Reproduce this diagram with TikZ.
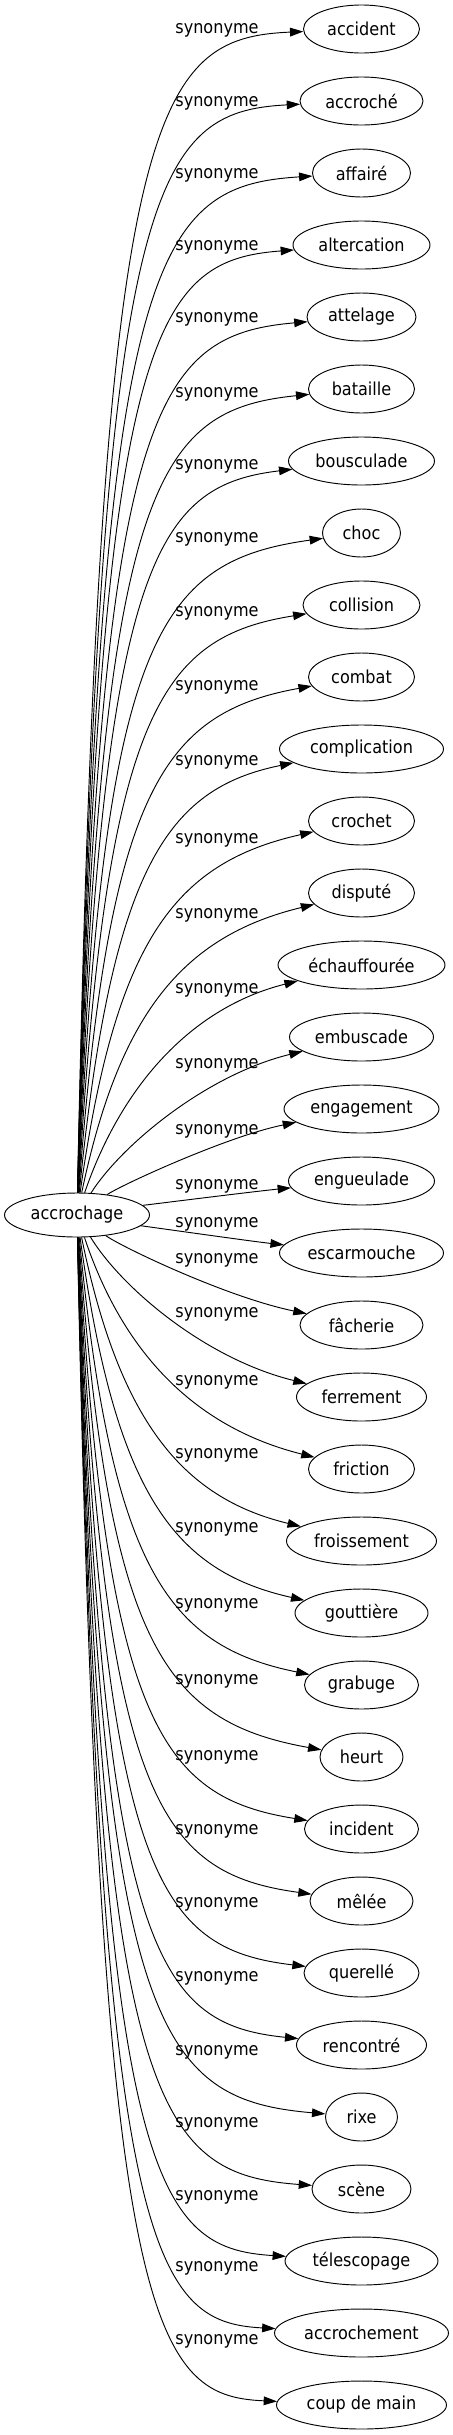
\documentclass[tikz,border=0pt]{standalone}
\usepackage{fontspec}
\setmainfont{DejaVu Sans Condensed}
\usetikzlibrary{arrows.meta,calc,shapes.geometric}

\begin{document}
\begin{tikzpicture}[x=0.75pt, y=0.75pt,
		mot/.style={draw, ellipse, line width=0.7pt, inner sep=0pt, minimum height=36pt, font=\fontsize{13.4}{16}\selectfont},
		lien/.style={line width=0.7pt, -{Triangle[length=10pt, width=6.5pt]}},
		etiq/.style={inner sep=0pt, font=\fontsize{13.4}{16}\selectfont}]
	\useasboundingbox (0,0) rectangle (453,-2435);
	\def\xs{77}
	\def\ys{-1215}

	\node[mot, minimum width=145*0.75pt, minimum height=33pt] (m) at (\xs,\ys) {accrochage};

	\foreach \i/\mot/\w/\dl in {0/accident/116/1, 1/accroché/123/2, 2/affairé/98/2, 3/altercation/137/2,
			4/attelage/109/2, 5/bataille/106/5, 6/bousculade/146/5, 7/choc/78/6, 8/collision/117/8,
			9/combat/106/10, 10/complication/164/13, 11/crochet/106/19, 12/disputé/106/22,
			13/échauffourée/167/25, 14/embuscade/144/28, 15/engagement/155/22, 16/engueulade/146/5,
			17/escarmouche/164/-29, 18/fâcherie/123/-65, 19/ferrement/130/-83, 20/friction/106/-87,
			21/froissement/150/-86, 22/gouttière/133/-84, 23/grabuge/114/-80, 24/heurt/83/-76,
			25/incident/114/-72, 26/mêlée/103/-70, 27/querellé/115/-69, 28/rencontré/130/-67,
			29/rixe/72/-65, 30/scène/99/-65, 31/télescopage/153/-64, 32/accrochement/174/-65,
			33/coup de main/170/-64}{
		\pgfmathsetmacro\yt{-29-72*\i}
		\pgfmathsetmacro\yl{\yt-(\dl)}
		\pgfmathsetmacro\h{abs(\yt+1215)}
		\pgfmathsetmacro\sg{(\yt>\ys) ? 1 : -1}
		\pgfmathsetmacro\xk{100+120*exp(-\h/250)}
		\pgfmathsetmacro\yk{\yt-\sg*0.5*\h*exp(-\h/300)}

		\node[mot, minimum width=\w*0.75pt] (\i) at (361.5,\yt) {\mot};
		\node[etiq] (l\i) at (217,\yl) {synonyme};
		\coordinate (k\i) at (\xk,\yk);
		\draw[lien] (m) .. controls ($(k\i)!52pt!(m)$) and ($(k\i)!37pt!(\i)$) .. (\i);
	}
\end{tikzpicture}
\end{document}
